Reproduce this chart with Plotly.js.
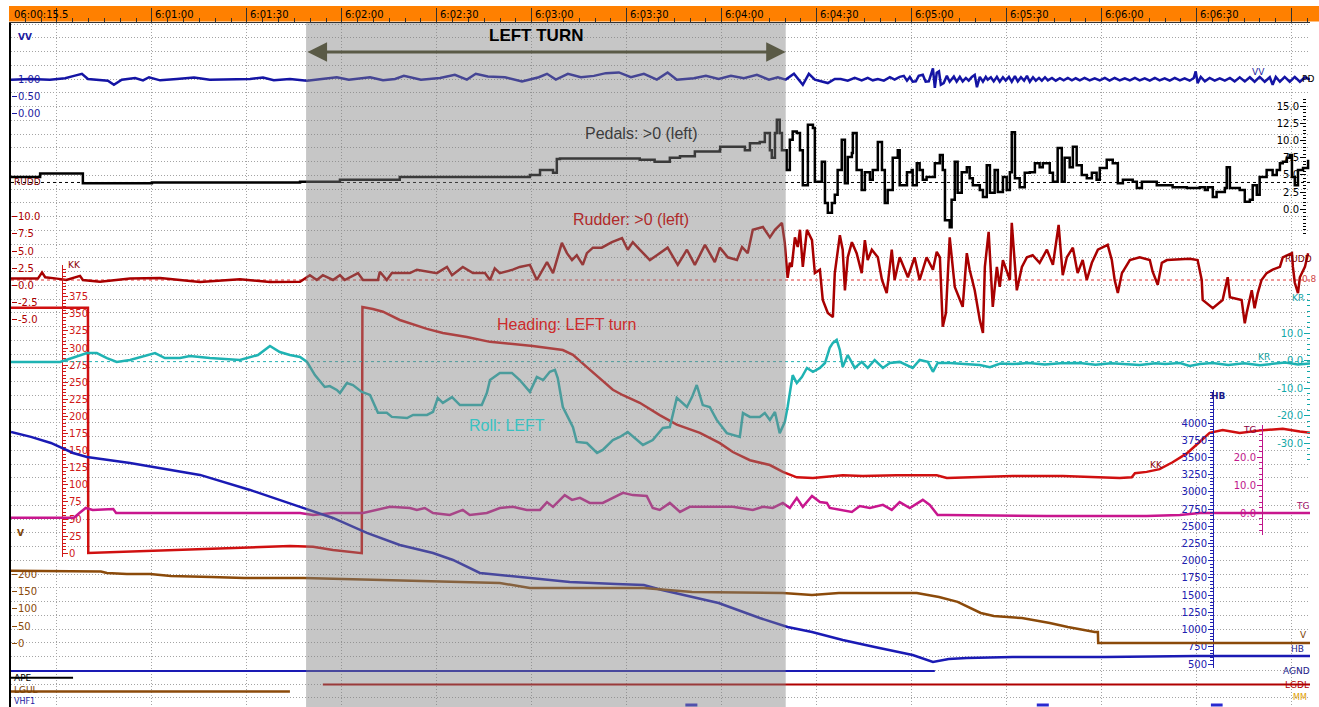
<!DOCTYPE html>
<html><head><meta charset="utf-8">
<script src="https://cdn.plot.ly/plotly-3.0.1.min.js"></script>
<style>html,body{margin:0;padding:0;background:#fff;overflow:hidden}#chart{width:1319px;height:707px}</style>
</head><body><div id="chart"></div>
<script>
// ---------------- DATA (time in seconds after 06:00:00) ----------------
const timeTickValues = [15.5, 60, 90, 120, 150, 180, 210, 240, 270, 300, 330, 360, 390];
const timeTickLabels = ['06:00:15.5','6:01:00','6:01:30','6:02:00','6:02:30','6:03:00','6:03:30','6:04:00','6:04:30','6:05:00','6:05:30','6:06:00','6:06:30'];
const timeStart = 15.5, timeEnd = 425.8;
const turnStart = 108.7, turnEnd = 260.2;

const vvTicks = [0, 0.5, 1.0];
const pedalTicks = [0, 2.5, 5, 7.5, 10, 12.5, 15];
const rudderTicks = [-5, -2.5, 0, 2.5, 5, 7.5, 10];
const headingTicks = [0,25,50,75,100,125,150,175,200,225,250,275,300,325,350,375];
const rollTicks = [-30, -20, -10, 0, 10];
const tgTicks = [0, 10, 20];
const altTicks = [500,750,1000,1250,1500,1750,2000,2250,2500,2750,3000,3250,3500,3750,4000];
const speedTicks = [0, 50, 100, 150, 200];

const pedalNeutral = 3.9, rudderRef = 0.8, rollRef = -0.3;

const vv = [[15.5,0.99],[21.5,1.01],[27.8,0.99],[32.6,1.03],[35.4,1.10],[37.9,1.16],[39.8,1.01],[43.9,0.99],[46.1,0.96],[48.0,0.84],[50.5,0.99],[54.7,1.04],[57.2,0.97],[59.1,1.06],[62.6,0.97],[67.9,1.01],[73.3,1.05],[78.3,0.99],[86.5,0.99],[91.0,1.01],[95.1,1.05],[98.5,0.97],[103.6,1.01],[109.0,0.96],[113.7,1.01],[118.4,1.06],[122.2,0.99],[125.7,1.03],[128.9,1.06],[133.0,0.97],[136.8,1.01],[139.6,1.10],[145.0,0.99],[151.0,1.04],[155.7,1.13],[159.5,0.99],[162.3,1.16],[166.1,1.08],[171.5,1.06],[176.9,0.94],[182.2,1.06],[184.8,1.16],[187.6,0.99],[191.4,1.16],[195.5,1.06],[199.6,1.10],[203.4,1.18],[207.5,1.20],[211.3,1.06],[215.4,1.16],[219.5,0.99],[222.9,1.20],[225.8,0.99],[231.2,1.03],[235.0,1.10],[239.0,1.01],[242.9,1.10],[247.0,1.03],[251.1,1.13],[254.9,0.99],[257.7,1.06],[260.2,0.99],[262.8,1.16],[265.6,0.84],[267.5,1.16],[269.4,0.99],[271.6,0.93],[273.5,0.89],[275.7,1.01],[277.6,1.01],[279.8,0.96],[282.0,1.04],[284.2,0.97],[286.1,1.04],[287.7,0.97],[289.3,1.01],[291.2,0.96],[293.1,1.06],[294.6,0.99],[296.2,1.07],[297.5,1.10],[298.5,0.96],[299.4,1.07],[300.3,0.93],[301.3,0.94],[302.2,1.10],[303.5,1.13],[304.4,0.93],[305.4,0.94],[306.0,1.10],[306.7,1.32],[307.3,0.75],[307.9,1.19],[308.6,1.23],[309.2,0.84],[310.1,0.89],[311.1,1.10],[312.0,0.93],[313.3,1.08],[314.2,0.93],[315.2,1.07],[316.1,0.94],[317.1,1.04],[318.0,0.96],[319.0,1.07],[319.9,1.13],[320.6,0.77],[321.5,1.07],[322.5,0.93],[323.4,1.07],[324.0,0.99],[325.0,1.06],[325.9,0.94],[326.9,1.07],[327.8,0.93],[328.8,1.06],[329.7,0.96],[330.7,1.07],[331.6,0.93],[332.6,1.09],[333.5,0.94],[334.5,1.06],[335.5,0.96],[336.4,1.10],[337.3,0.93],[338.3,1.06],[339.2,0.96],[340.2,1.04],[341.1,0.96],[342.1,1.06],[343.0,0.97],[344.3,1.04],[345.5,0.96],[346.8,1.03],[348.0,0.97],[349.3,1.04],[350.6,0.97],[351.8,1.03],[353.1,0.97],[354.6,1.04],[356.2,0.97],[357.8,1.03],[359.4,0.97],[361.0,1.04],[362.5,0.96],[364.1,1.04],[365.7,0.97],[367.3,1.03],[368.9,0.97],[370.5,1.04],[372.0,0.97],[373.6,1.03],[375.2,0.96],[376.8,1.04],[378.3,0.97],[379.9,1.03],[381.5,0.96],[383.1,1.04],[384.7,0.97],[386.2,1.03],[387.8,0.96],[389.1,1.04],[389.7,1.23],[390.3,0.89],[391.3,1.07],[392.6,0.94],[394.1,1.04],[395.7,0.96],[397.3,1.03],[398.9,0.96],[400.5,1.04],[402.0,0.94],[403.6,1.06],[405.2,0.94],[406.8,1.06],[408.3,0.93],[409.9,1.07],[411.5,0.93],[413.1,1.06],[414.0,0.84],[415.0,1.07],[416.3,0.93],[417.8,1.07],[419.4,0.93],[421.0,1.07],[422.6,0.93],[424.2,1.06],[425.8,0.99]];

const pedals = [[15.5,4.7],[24.6,4.7],[24.7,5.2],[38.1,5.2],[38.2,3.8],[60,3.9],[80,3.9],[100,3.9],[106.8,4.0],[119.4,4.3],[138.3,4.7],[154.1,4.7],[179.4,5.0],[182.6,5.7],[186.7,5.3],[187.9,7.3],[188.9,7.4],[207.8,7.4],[214.1,7.2],[218.8,6.9],[223.6,7.5],[226.8,7.7],[231.5,8.4],[239.4,8.6],[239.5,9.1],[245.7,9.1],[247.3,8.6],[248.9,9.6],[252.0,9.8],[253.6,11.1],[255.2,8.6],[255.8,7.5],[256.8,11.1],[257.4,13.0],[258.3,11.1],[259.0,8.6],[259.9,8.6],[260.5,5.7],[261.5,10.1],[262.4,11.3],[263.7,11.1],[264.7,8.6],[265.6,3.5],[267.2,12.3],[268.8,11.8],[269.4,4.0],[271.6,6.9],[272.6,0.9],[273.5,-0.5],[274.8,0.9],[275.7,2.1],[276.6,5.7],[277.9,10.1],[278.9,3.8],[279.8,7.6],[281.1,8.2],[281.4,11.1],[282.6,5.7],[284.2,2.8],[285.2,5.4],[286.8,4.3],[287.7,5.7],[289.3,9.8],[290.6,5.7],[291.5,0.9],[292.4,2.8],[294.0,7.5],[295.6,8.6],[296.2,3.5],[298.5,5.4],[300.0,5.7],[300.3,3.5],[301.6,6.7],[302.5,5.7],[303.5,4.3],[304.7,4.7],[307.3,6.7],[308.9,7.9],[309.8,5.7],[310.5,-1.6],[312.0,-2.6],[312.6,1.4],[313.6,6.9],[314.5,2.4],[315.8,5.4],[317.4,6.1],[318.3,4.5],[319.3,3.5],[321.5,2.8],[322.5,1.8],[323.7,6.4],[324.7,2.4],[326.2,5.7],[327.2,2.5],[328.8,4.7],[330.0,2.8],[331.0,5.4],[331.6,11.2],[332.6,4.5],[334.1,3.2],[335.7,5.3],[337.3,5.4],[338.9,6.7],[340.4,6.1],[341.4,6.7],[342.7,6.7],[343.6,5.3],[344.6,4.0],[346.1,8.9],[347.4,4.0],[348.3,7.5],[349.9,6.1],[350.9,9.1],[352.1,6.4],[353.7,5.0],[355.3,4.5],[356.9,5.3],[358.4,4.3],[359.4,6.0],[361.6,7.2],[363.5,6.7],[365.1,3.8],[366.7,4.3],[369.8,4.0],[371.1,3.1],[372.7,4.0],[377.4,3.5],[382.4,3.2],[386.9,3.1],[391.0,3.2],[392.6,2.8],[393.5,3.2],[395.1,1.8],[396.3,2.5],[398.9,3.1],[399.5,6.1],[400.5,3.1],[403.6,2.8],[405.2,1.1],[406.8,1.4],[407.7,3.5],[409.0,2.1],[409.9,4.7],[412.1,5.7],[414.0,5.0],[415.3,5.7],[416.3,6.7],[417.2,6.9],[418.5,7.5],[419.4,7.9],[420.1,4.7],[421.0,3.5],[422.0,5.7],[423.6,6.0],[425.2,7.2]];

const rudder = [[15.5,1.0],[24.0,1.0],[25.3,1.9],[26.3,1.2],[30,1.0],[33,0.8],[37.3,1.4],[38.2,0.8],[43.6,0.55],[49,0.8],[53.1,1.0],[62.6,1.1],[75.2,0.5],[87.8,0.9],[97.3,0.5],[106.8,0.55],[109.9,1.5],[112.1,0.8],[114.0,1.5],[117.2,0.8],[119.4,1.5],[120.9,0.8],[125.1,1.8],[126.7,0.8],[131.4,0.8],[132.0,2.0],[134.2,0.8],[135.8,1.8],[141.5,1.8],[143.7,2.3],[146.9,2.0],[150.0,1.8],[153.2,2.7],[154.8,1.5],[158.2,2.7],[161.4,1.8],[165.2,1.8],[166.8,0.8],[168.3,2.5],[169.9,1.8],[174.0,2.3],[176.2,2.7],[179.4,3.0],[181.6,0.8],[184.8,3.4],[186.7,1.8],[189.5,6.2],[191.1,4.7],[192.7,3.7],[194.2,4.4],[196.1,3.0],[197.4,4.7],[199.3,5.5],[202.1,5.5],[205.3,6.3],[208.5,6.9],[210.3,5.2],[211.9,6.3],[214.1,5.2],[217.3,3.7],[219.5,4.4],[222.9,5.5],[226.1,3.0],[229.0,5.2],[231.5,3.0],[234.7,5.9],[237.8,3.4],[239.4,5.5],[241.9,4.1],[244.8,3.7],[246.4,5.6],[248.2,4.7],[249.8,8.1],[253.0,8.5],[255.2,7.0],[256.8,8.1],[259.0,9.1],[259.9,6.2],[260.8,1.1],[261.5,3.3],[262.1,2.7],[263.1,7.0],[264.0,5.6],[264.7,8.1],[265.6,2.7],[266.9,8.1],[268.5,6.6],[269.4,1.8],[271.0,2.3],[271.9,-2.1],[273.5,-4.0],[275.1,-4.6],[275.7,1.8],[277.3,7.3],[278.2,5.2],[278.9,-0.7],[279.8,4.1],[281.1,6.3],[282.6,4.7],[284.2,1.8],[285.2,6.6],[286.1,3.7],[287.4,5.2],[289.3,4.1],[290.6,0.8],[292.1,-1.1],[293.7,5.2],[294.6,0.8],[296.2,4.1],[298.8,1.2],[300.9,4.1],[302.5,0.8],[304.7,4.1],[306.7,2.3],[307.9,4.9],[308.9,4.1],[309.8,-6.0],[310.8,-4.0],[312.0,7.0],[313.6,-0.2],[316.1,-3.1],[317.4,4.7],[318.3,2.3],[319.9,-0.7],[321.5,-5.0],[322.5,-6.9],[323.1,2.7],[324.3,7.8],[325.6,-3.1],[326.9,2.7],[327.8,-0.2],[328.8,3.7],[331.0,0.8],[331.6,9.1],[333.2,-0.7],[334.8,2.7],[336.4,4.1],[338.2,4.4],[340.4,3.3],[342.7,5.2],[344.6,3.0],[346.4,8.8],[347.7,1.5],[349.0,4.1],[350.9,5.5],[352.4,1.8],[354.0,3.7],[355.3,0.8],[356.9,3.3],[358.8,5.2],[361.9,5.9],[363.2,3.7],[364.1,0.8],[365.1,-1.1],[366.4,1.8],[368.9,3.7],[372.0,4.1],[375.2,3.7],[376.1,2.0],[377.7,0.1],[379.0,3.3],[380.6,3.7],[387.8,3.9],[390.3,3.7],[391.6,0.8],[391.9,-2.1],[395.1,-3.3],[398.2,-2.1],[399.8,1.2],[400.5,-1.7],[404.2,-2.1],[405.2,-5.5],[405.8,-4.0],[407.4,-0.7],[408.3,-3.3],[409.3,-1.1],[410.5,0.8],[412.1,1.8],[414.0,2.3],[416.3,2.7],[417.2,4.1],[420.1,4.7],[420.4,2.7],[421.0,0.4],[422.0,-1.1],[422.6,1.2],[424.2,2.7],[425.2,4.7]];

const heading = [[15.5,359],[39.8,359],[39.9,0.4],[59.4,3.4],[75.2,6.3],[91.0,7.7],[103.6,10.7],[110.9,9.6],[117.2,4.8],[126.3,0.2],[126.5,360],[129.8,357],[133.0,353],[138.3,341],[146.9,328],[151.9,322],[159.5,316],[166.8,309],[172.1,307],[180.3,303],[189.8,297],[193.0,290],[197.4,272],[201.5,256],[205.6,239],[208.8,231],[214.1,220],[220.4,202],[225.8,188],[233.1,176],[239.4,161],[243.5,148],[248.9,136],[255.2,129],[259.3,119],[263.7,111],[268.8,110],[278.2,114],[284.5,113],[295.3,114],[307.9,114],[311.1,110],[321.5,111],[331.9,113],[347.7,113],[357.2,111],[365.7,110],[369.5,111],[370.5,117],[374.2,119],[378.3,123],[382.4,133],[386.9,146],[391.0,163],[394.1,176],[398.2,180],[403.6,176],[410.9,180],[417.2,182],[422.6,178],[425.8,176]];

const roll = [[15.5,-0.4],[31.0,-0.4],[34.8,1.0],[39.5,2.8],[42.6,2.8],[45.8,1.0],[48.9,-0.4],[53.1,0.3],[61.0,2.8],[64.1,1.0],[68.9,1.0],[72.0,1.7],[78.3,1.0],[87.8,0.3],[93.5,2.1],[97.3,5.4],[100.4,3.2],[103.6,2.1],[106.8,1.4],[109.0,-0.4],[111.5,-5.2],[114.6,-9.5],[116.2,-9.2],[118.4,-10.6],[119.4,-11.7],[121.6,-8.1],[123.5,-8.8],[126.3,-11.3],[128.9,-12.4],[131.4,-18.9],[134.2,-18.9],[135.8,-20.4],[140.6,-20.8],[142.5,-19.7],[146.9,-19.7],[148.8,-18.6],[150.3,-13.5],[151.9,-15.3],[154.8,-13.2],[157.3,-16.1],[164.2,-16.1],[165.8,-11.7],[166.8,-7.0],[169.9,-4.4],[173.7,-4.4],[176.2,-7.0],[179.4,-11.3],[181.6,-5.9],[183.6,-7.0],[185.7,-4.0],[187.3,-3.3],[188.2,-6.3],[189.8,-16.8],[193.0,-24.1],[194.2,-29.5],[197.4,-29.9],[200.6,-33.5],[202.4,-32.4],[205.6,-28.8],[207.8,-27.7],[210.3,-25.9],[213.2,-28.8],[215.1,-30.6],[218.2,-28.8],[221.4,-24.4],[223.6,-24.1],[225.8,-13.5],[229.0,-16.8],[230.6,-13.2],[232.1,-8.8],[234.0,-16.1],[236.2,-16.8],[238.4,-21.5],[241.6,-26.3],[245.7,-27.7],[246.7,-19.0],[248.9,-20.4],[252.0,-20.4],[253.6,-19.0],[255.2,-21.5],[256.8,-18.6],[258.3,-26.3],[259.9,-22.3],[260.8,-16.8],[262.1,-8.1],[262.4,-5.2],[263.7,-8.1],[265.3,-5.9],[266.9,-2.6],[268.8,-4.0],[271.0,-2.6],[272.6,-0.8],[274.1,4.7],[275.1,6.5],[276.3,7.6],[277.3,3.9],[278.2,-2.3],[279.8,2.1],[282.0,-2.6],[284.2,-0.4],[286.1,-2.6],[288.3,0.3],[290.9,-2.6],[293.1,-0.8],[296.2,-0.4],[300.3,-2.6],[302.5,0.3],[305.1,-0.4],[306.7,-4.0],[308.2,-0.8],[312.0,-0.8],[316.0,-1.2],[321.5,-1.5],[324.7,-2.3],[328.0,-1.0],[331.9,-1.2],[337.0,-0.8],[342.0,-1.3],[347.0,-0.9],[353.1,-0.8],[358.0,-1.4],[363.0,-0.9],[368.0,-1.3],[372.0,-1.5],[377.0,-0.9],[380.0,-1.2],[384.7,-0.8],[387.8,-1.9],[391.0,-1.2],[395.0,-0.8],[400.0,-1.5],[405.0,-0.9],[410.0,-1.6],[414.0,-1.0],[418.0,-0.6],[422.0,-1.3],[425.8,-1.0]];

const tg = [[15.5,-1.6],[35.4,-1.6],[37.1,0.1],[39.1,1.9],[41.3,1.2],[47.8,1.5],[48.7,0.1],[106.8,0.1],[110.9,-0.6],[117.2,0.1],[126.7,0.1],[131.1,1.2],[135.2,2.3],[141.5,1.9],[143.7,1.2],[146.2,1.9],[148.8,0.1],[154.1,-0.6],[158.2,1.2],[160.4,-0.6],[165.8,0.1],[169.9,1.9],[174.0,2.3],[178.4,1.2],[182.6,1.2],[184.8,4.0],[186.7,2.3],[190.4,6.5],[192.7,4.8],[195.2,5.5],[198.3,3.7],[202.4,3.7],[205.6,5.5],[208.8,7.3],[211.9,6.5],[216.3,6.2],[218.2,1.9],[220.4,1.2],[223.6,3.7],[226.8,0.5],[229.9,2.3],[236.2,2.3],[243.5,2.3],[249.8,1.2],[253.0,2.3],[256.1,1.9],[259.3,3.7],[261.5,1.9],[263.7,5.5],[265.6,2.3],[268.5,6.2],[271.0,4.0],[273.2,3.7],[274.1,1.9],[278.2,1.2],[281.1,0.5],[283.6,2.6],[286.8,1.9],[290.9,3.0],[293.7,1.2],[296.2,4.0],[299.4,1.9],[303.5,4.8],[305.7,3.0],[308.2,-0.6],[311.1,-0.6],[342.7,-1.0],[374.2,-1.0],[384.7,-0.6],[391.0,0.1],[425.8,0.1]];

const altitude = [[15.5,3870],[21.8,3798],[28.1,3710],[35.1,3565],[39.5,3507],[45.8,3463],[53.1,3420],[75.2,3246],[91.0,3028],[106.8,2781],[117.2,2621],[127.9,2403],[138.3,2229],[148.8,2112],[155.1,2011],[163.6,1822],[179.4,1749],[192.0,1691],[206.6,1662],[215.4,1648],[221.1,1575],[239.0,1386],[252.0,1168],[260.8,1038],[268.5,965],[278.2,849],[288.3,747],[300.3,631],[306.7,529],[311.7,573],[317.4,587],[331.9,602],[361.0,602],[389.7,616],[425.8,616]];

const speed = [[15.5,210],[34.5,210],[43.9,208],[45.8,204],[52.1,201],[59.4,201],[66.0,195],[78.7,192],[89.1,189],[108.0,189],[119.7,186],[138.3,183],[169.9,175],[179.4,160],[201.5,160],[215.4,160],[230.6,149],[259.3,146],[268.5,140],[277.0,146],[301.6,146],[308.6,134],[314.5,120],[321.8,88],[325.9,79],[334.8,73],[343.6,59],[349.3,47],[357.8,33],[358.8,33],[358.9,1],[425.8,1]];

const agndOn = [15.5, 307.3];
const apeOn = [15.5, 35.1];
const lgdlOn = [114.0, 425.8];
const lgulOn = [15.5, 103.6];
const vhf1Marks = [[228.5, 232.3], [339.5, 343.3], [394.5, 398.2]];
const lane = {VHF1: 0, MM: 1, LGUL: 2, LGDL: 3, APE: 4, AGND: 5};

// ---------------- LAYOUT HELPERS ----------------
const L = 11, R = 1310, T = 23, B = 707;
const fx = p => (p - L) / (R - L);
const fy = p => (B - p) / (B - T);
function cal(v1, p1, v2, p2, pBot, pTop) {
  const k = (v2 - v1) / (p2 - p1);
  return {domain: [fy(pBot), fy(pTop)], range: [v1 + (pBot - p1) * k, v1 + (pTop - p1) * k]};
}
const FONT = 'DejaVu Sans, Verdana, sans-serif';
const GRID = '#a4a4a4';
function dataAxis(c, o) {
  const col = o.color;
  const ax = Object.assign({
    domain: c.domain, range: c.range, anchor: 'free', showgrid: false, zeroline: false,
    fixedrange: true, showline: false, ticks: 'inside', ticklen: 5, tickwidth: 1,
    tickcolor: col, ticklabelposition: 'inside', ticklabeloverflow: 'allow', tickmode: 'array',
    tickfont: {family: FONT, size: 10, color: col}, linecolor: col, linewidth: 1
  }, o);
  delete ax.color;
  return ax;
}
const fmt1 = v => v.toFixed(1);

const layout = {
  width: 1319, height: 707,
  margin: {l: L, r: 1319 - R, t: T, b: 0, pad: 0},
  paper_bgcolor: '#ffffff', plot_bgcolor: 'rgba(0,0,0,0)',
  showlegend: false, hovermode: false,
  font: {family: FONT, size: 10, color: '#000'},
  xaxis: {
    domain: [0, 1], range: [timeStart, timeEnd], anchor: 'y', side: 'top', fixedrange: true,
    tickmode: 'linear', tick0: 0, dtick: 30, ticks: 'outside', ticklen: 14, tickcolor: '#333', tickwidth: 1,
    showticklabels: false, showgrid: true, gridcolor: GRID, griddash: '1px,2px', gridwidth: 1,
    zeroline: false, showline: true, linecolor: '#333', linewidth: 1,
    minor: {tickmode: 'linear', tick0: 0, dtick: 5, ticks: 'outside', ticklen: 4, tickcolor: '#333', showgrid: false}
  },
  xaxis2: {domain: [0, 1], range: [timeStart, timeEnd], anchor: 'y2', visible: false, fixedrange: true},
  yaxis: {
    domain: [0, 1], range: [0, B - T], fixedrange: true, tickmode: 'linear', tick0: 9.05, dtick: 13.75,
    showgrid: true, gridcolor: GRID, griddash: '1px,2px', gridwidth: 1, showticklabels: false, ticks: '',
    zeroline: false, showline: true, linecolor: '#000', linewidth: 2
  },
  yaxis2: dataAxis(cal(1, 79.3, 0, 113.6, 125, 28), {position: 0, side: 'left', color: '#1a1aa0',
    tickvals: vvTicks, ticktext: vvTicks.map(v => v.toFixed(2))}),
  yaxis3: dataAxis(cal(0, 209.3, 15, 106.1, 235, 95), {position: fx(1306), side: 'right', color: '#000', ticklen: 6,
    tickvals: pedalTicks, ticktext: pedalTicks.map(fmt1),
    minor: {tickmode: 'linear', tick0: 0, dtick: 0.5, ticks: 'inside', ticklen: 3, tickcolor: '#000'}}),
  yaxis4: dataAxis(cal(0, 285.5, 10, 216.7, 340, 205), {position: 0, side: 'left', color: '#b00000',
    tickvals: rudderTicks, ticktext: rudderTicks.map(fmt1)}),
  yaxis5: dataAxis(cal(0, 553.3, 375, 296.7, 557, 265), {position: fx(62), side: 'left', color: '#d01818',
    showline: true, tickvals: headingTicks, ticktext: headingTicks.map(String),
    minor: {tickmode: 'linear', tick0: 0, dtick: 5, ticks: 'inside', ticklen: 3, tickcolor: '#d01818'}}),
  yaxis6: dataAxis(cal(0, 360.8, -30, 443.3, 462, 290), {position: 1, side: 'right', color: '#12a8a8', ticklen: 6,
    tickvals: rollTicks, ticktext: rollTicks.map(fmt1),
    minor: {tickmode: 'linear', tick0: 0, dtick: 2, ticks: 'inside', ticklen: 3, tickcolor: '#12a8a8'}}),
  yaxis7: dataAxis(cal(0, 513.3, 20, 457.3, 535, 425), {position: fx(1262), side: 'right', color: '#c0168a',
    showline: true, tickvals: tgTicks, ticktext: tgTicks.map(fmt1),
    minor: {tickmode: 'linear', tick0: 0, dtick: 2, ticks: 'inside', ticklen: 3, tickcolor: '#c0168a'}}),
  yaxis8: dataAxis(cal(500, 664, 4000, 423, 668, 390), {position: fx(1213), side: 'right', color: '#2020b0',
    showline: true, tickvals: altTicks, ticktext: altTicks.map(String),
    minor: {tickmode: 'linear', tick0: 0, dtick: 50, ticks: 'inside', ticklen: 3, tickcolor: '#2020b0'}}),
  yaxis9: dataAxis(cal(0, 643.3, 200, 574.3, 655, 525), {position: 0, side: 'left', color: '#8b4a0a',
    tickvals: speedTicks, ticktext: speedTicks.map(String)}),
  yaxis10: Object.assign(cal(0, 705, 5, 671, 707, 664), {anchor: 'free', position: 0, visible: false, fixedrange: true}),
  shapes: [
    {type: 'rect', xref: 'paper', yref: 'paper', x0: fx(9), x1: fx(1319), y0: fy(21.5), y1: fy(6),
     fillcolor: '#ff8000', line: {width: 0}, layer: 'below'},
    {type: 'rect', xref: 'x', yref: 'paper', x0: turnStart, x1: turnEnd, y0: 0, y1: 1,
     fillcolor: 'rgba(128,128,128,0.45)', line: {width: 0}, layer: 'above'}
  ],
  annotations: []
};

// time labels in orange bar
timeTickValues.forEach((t, i) => layout.annotations.push({
  xref: 'x', yref: 'paper', x: t, y: fy(14), xanchor: 'left', yanchor: 'middle', xshift: 1,
  text: timeTickLabels[i], showarrow: false, font: {family: FONT, size: 10, color: '#000'}
}));

function lab(text, px, py, color, anchor, size, extra) {
  layout.annotations.push(Object.assign({
    xref: 'paper', yref: 'paper', x: fx(px), y: fy(py), xanchor: anchor || 'center', yanchor: 'middle',
    text: text, showarrow: false, font: {family: FONT, size: size || 9, color: color}
  }, extra || {}));
}
// channel labels
lab('VV', 16, 37, '#1a1aa0', 'left', 9, {font: {family: FONT, size: 9, color: '#1a1aa0', weight: 700}});
lab('RUDD', 12, 182, '#7a0000', 'left');
lab('KK', 66, 265, '#8b0000', 'left');
lab('V', 15, 533, '#7a4000', 'left', 9, {font: {family: FONT, size: 9, color: '#7a4000', weight: 700}});
lab('APE', 12, 678, '#000', 'left');
lab('LGUL', 12, 690, '#7a4000', 'left');
lab('VHF1', 12, 701, '#1a1aa0', 'left', 8);
lab('VV', 1258, 72, '#1a1aa0');
lab('PD', 1308, 79, '#000');
lab('RUDD', 1298, 259, '#7a0000');
lab('0.8', 1309, 279, '#d04848');
lab('KR', 1298, 298, '#10a0a0');
lab('KR', 1264, 357, '#10a0a0');
lab('HB', 1218, 396, '#1a1a8a', 'center', 9, {font: {family: FONT, size: 9, color: '#1a1a8a', weight: 700}});
lab('KK', 1156, 465, '#8b0000');
lab('TG', 1249, 430, '#8b0040');
lab('TG', 1302, 506, '#a0106a');
lab('V', 1303, 635, '#7a4000');
lab('HB', 1297, 649, '#1a1a8a');
lab('AGND', 1296, 671, '#1a1a8a');
lab('LGDL', 1297, 685, '#b00000');
lab('MM', 1300, 697, '#e0a000', 'center', 8);
// commentary
const TXT = 'Liberation Sans, Arial, sans-serif';
lab('LEFT TURN', 536, 36, '#000', 'center', 17, {font: {family: 'Liberation Sans Narrow, Arial Narrow, Liberation Sans, sans-serif', size: 17, color: '#000', weight: 700}});
lab('Pedals: >0 (left)', 641, 133, '#3c3c3c', 'center', 16, {font: {family: TXT, size: 16, color: '#3c3c3c'}});
lab('Rudder: >0 (left)', 631, 219, '#b02a2a', 'center', 16, {font: {family: TXT, size: 16, color: '#b02a2a'}});
lab('Heading: LEFT turn', 566, 324, '#cc2c2c', 'center', 16, {font: {family: TXT, size: 16, color: '#cc2c2c'}});
lab('Roll: LEFT', 507, 425, '#38c2c2', 'center', 16, {font: {family: TXT, size: 16, color: '#38c2c2'}});
// double arrow
layout.annotations.push({xref: 'x', yref: 'paper', x: turnEnd, y: fy(52), axref: 'x', ayref: 'pixel', ax: turnStart, ay: 0,
  text: '', showarrow: true, arrowside: 'end+start', arrowhead: 2, startarrowhead: 2, arrowsize: 1.3, startarrowsize: 1.3,
  arrowwidth: 3, arrowcolor: '#5a5a46', standoff: 0, startstandoff: 0});

// ---------------- TRACES ----------------
function line(series, yaxis, color, width, shape) {
  return {type: 'scatter', mode: 'lines', x: series.map(p => p[0]), y: series.map(p => p[1]),
    xaxis: 'x2', yaxis: yaxis, line: {color: color, width: width, shape: shape || 'linear'},
    hoverinfo: 'skip', showlegend: false};
}
function refLine(value, yaxis, color) {
  return {type: 'scatter', mode: 'lines', x: [timeStart, timeEnd], y: [value, value], xaxis: 'x2', yaxis: yaxis,
    line: {color: color, width: 1, dash: '3px,3px'}, hoverinfo: 'skip', showlegend: false};
}
function discrete(on, ln, color, width) {
  return {type: 'scatter', mode: 'lines', x: on, y: on.map(() => ln), xaxis: 'x2', yaxis: 'y10',
    line: {color: color, width: width}, hoverinfo: 'skip', showlegend: false};
}
const vhfX = [], vhfY = [];
vhf1Marks.forEach(m => { vhfX.push(m[0], m[1], null); vhfY.push(lane.VHF1, lane.VHF1, null); });

const traces = [
  {type: 'scatter', mode: 'lines', x: [null], y: [null], xaxis: 'x', yaxis: 'y', hoverinfo: 'skip', showlegend: false},
  refLine(pedalNeutral, 'y3', '#000'),
  refLine(rudderRef, 'y4', '#e03030'),
  refLine(rollRef, 'y6', '#20b0b0'),
  line(vv, 'y2', '#1414a4', 2.5),
  line(pedals, 'y3', '#000000', 2.5, 'hv'),
  line(rudder, 'y4', '#a80000', 2.5),
  line(heading, 'y5', '#d01010', 2.5),
  line(roll, 'y6', '#1fb3b3', 2.5),
  line(tg, 'y7', '#c8168e', 2.5),
  line(altitude, 'y8', '#1a1ab4', 2.5),
  line(speed, 'y9', '#8b4a0a', 2.5),
  discrete(agndOn, lane.AGND, '#1a1ab4', 2),
  discrete(apeOn, lane.APE, '#000', 2),
  discrete(lgdlOn, lane.LGDL, '#b00000', 2),
  discrete(lgulOn, lane.LGUL, '#8b4a0a', 2.5),
  {type: 'scatter', mode: 'lines', x: vhfX, y: vhfY, xaxis: 'x2', yaxis: 'y10', connectgaps: false,
   line: {color: '#2a2ad0', width: 3}, hoverinfo: 'skip', showlegend: false}
];

Plotly.newPlot('chart', traces, layout, {staticPlot: true, displayModeBar: false});
</script>
</body></html>
